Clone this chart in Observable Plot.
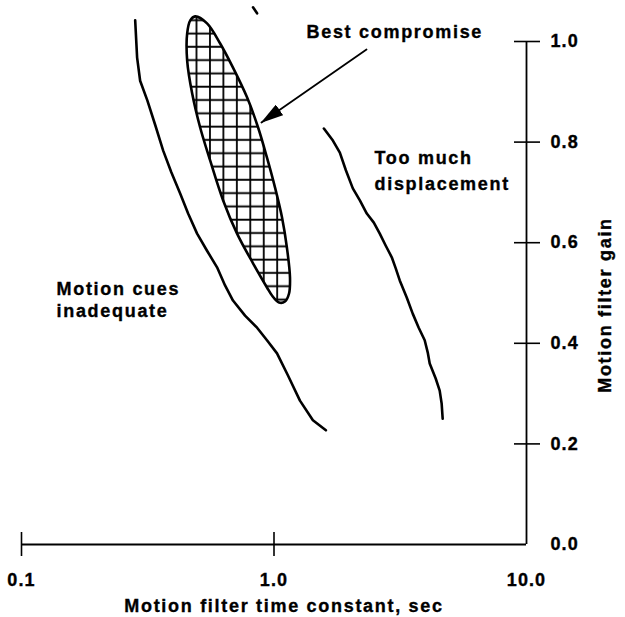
<!DOCTYPE html>
<html>
<head>
<meta charset="utf-8">
<script src="https://cdn.jsdelivr.net/npm/d3@7"></script>
<script src="https://cdn.jsdelivr.net/npm/@observablehq/plot@0.6"></script>
<style>
  html, body { margin: 0; padding: 0; background: #fff; }
  svg text { stroke: #000; stroke-width: 0.35px; }
  g[aria-label="x-axis tick label"] text, g[aria-label="y-axis tick label"] text { letter-spacing: 1.1px; }
</style>
</head>
<body>
<div id="chart"></div>
<script>
// Axis ticks and labels
const xTicks = [0.1, 1, 10];
const xTickLabels = ["0.1", "1.0", "10.0"];
const xTickMarks = [0.1, 1];
const yTicks = [0, 0.2, 0.4, 0.6, 0.8, 1.0];
const yTickLabels = ["0.0", "0.2", "0.4", "0.6", "0.8", "1.0"];
const yTickMarks = [0.2, 0.4, 0.6, 0.8, 1.0];
const xTitle = "Motion filter time constant, sec";
const yTitle = "Motion filter gain";

// Left boundary ("Motion cues inadequate")
const leftX = [0.282, 0.287, 0.295, 0.315, 0.339, 0.364, 0.392, 0.425, 0.457, 0.496, 0.543, 0.595, 0.640, 0.688, 0.768, 0.857, 0.938, 1.028, 1.136, 1.267, 1.426, 1.605];
const leftY = [1.042, 0.968, 0.922, 0.883, 0.833, 0.783, 0.740, 0.698, 0.658, 0.618, 0.584, 0.551, 0.515, 0.485, 0.455, 0.431, 0.406, 0.380, 0.336, 0.286, 0.247, 0.227];

// Right boundary ("Too much displacement")
const rightX = [1.576, 1.711, 1.823, 1.926, 2.052, 2.188, 2.331, 2.485, 2.624, 2.771, 2.927, 3.035, 3.148, 3.355, 3.543, 3.742, 3.952, 4.062, 4.137, 4.369, 4.531, 4.613, 4.656];
const rightY = [0.827, 0.803, 0.779, 0.744, 0.708, 0.684, 0.658, 0.640, 0.618, 0.594, 0.571, 0.549, 0.525, 0.491, 0.459, 0.431, 0.406, 0.382, 0.360, 0.330, 0.306, 0.280, 0.250];

// Short fragment at top
const topX = [0.826, 0.857];
const topY = [1.068, 1.056];

// Best-compromise region outline
const regionX = [0.487, 0.543, 0.612, 0.688, 0.782, 0.865, 0.938, 1.009, 1.076, 1.125, 1.157, 1.147, 1.105, 1.047, 0.982, 0.938, 0.826, 0.714, 0.629, 0.559, 0.510, 0.474, 0.453, 0.453, 0.466];
const regionY = [1.050, 1.036, 0.996, 0.948, 0.889, 0.829, 0.769, 0.710, 0.650, 0.590, 0.531, 0.499, 0.483, 0.481, 0.495, 0.511, 0.559, 0.618, 0.684, 0.763, 0.829, 0.897, 0.962, 1.016, 1.042];

// Arrow (tail -> tip)
const arrowX = [2.325, 0.892];
const arrowY = [0.984, 0.839];

// Annotations
const noteText = ["Best compromise", "Too much", "displacement", "Motion cues", "inadequate"];
const noteX = [1.345, 2.500, 2.500, 0.1376, 0.1376];
const noteY = [1.0185, 0.768, 0.716, 0.508, 0.463];

const zipXY = (xs, ys) => xs.map((x, i) => ({x, y: ys[i]}));
const left = zipXY(leftX, leftY);
const right = zipXY(rightX, rightY);
const topFrag = zipXY(topX, topY);
const region = zipXY(regionX, regionY);
const arrow = zipXY(arrowX, arrowY);
const notes = noteText.map((t, i) => ({t, x: noteX[i], y: noteY[i]}));

const font = "'Liberation Sans', Arial, Helvetica, sans-serif";

const svg = Plot.plot({
  width: 625,
  height: 617,
  marginLeft: 21,
  marginRight: 99,
  marginTop: 41,
  marginBottom: 73,
  style: {fontFamily: font, fontSize: "18px", fontWeight: "bold", color: "#000", background: "#fff", overflow: "visible"},
  x: {type: "log", domain: [0.1, 10]},
  y: {domain: [0, 1]},
  marks: [
    Plot.ruleY([0], {stroke: "#000", strokeWidth: 1.8}),
    Plot.ruleX([10], {stroke: "#000", strokeWidth: 1.8}),
    Plot.axisX(xTickMarks, {tickSize: 12, tickFormat: () => "", label: null, strokeWidth: 1.6}),
    Plot.axisX(xTickMarks, {tickSize: -12, tickFormat: () => "", label: null, strokeWidth: 1.6}),
    Plot.axisX(xTicks, {tickSize: 0, tickPadding: 29, label: null, fontSize: 18, fontWeight: "bold",
      tickFormat: d => xTickLabels[xTicks.indexOf(d)]}),
    Plot.axisY(yTickMarks, {anchor: "right", tickSize: 13, tickFormat: () => "", label: null, strokeWidth: 1.6}),
    Plot.axisY(yTickMarks, {anchor: "right", tickSize: -13, tickFormat: () => "", label: null, strokeWidth: 1.6}),
    Plot.axisY(yTicks, {anchor: "right", tickSize: 0, tickPadding: 24, label: null, fontSize: 18, fontWeight: "bold",
      tickFormat: d => yTickLabels[yTicks.indexOf(d)]}),
    Plot.text([xTitle], {text: d => d, frameAnchor: "bottom", textAnchor: "middle", dx: 10, dy: 62, lineAnchor: "middle",
      fontSize: 18, fontWeight: "bold", fill: "#000"}),
    Plot.text([yTitle], {text: d => d, frameAnchor: "right", textAnchor: "middle", rotate: -90, dx: 79, dy: 12, lineAnchor: "middle",
      fontSize: 18, fontWeight: "bold", fill: "#000"}),
    Plot.line(region, {x: "x", y: "y", curve: "catmull-rom-closed", fill: "url(#hatch)", stroke: "#000", strokeWidth: 2.6}),
    Plot.line(left, {x: "x", y: "y", stroke: "#000", strokeWidth: 2.6, strokeLinejoin: "round", strokeLinecap: "round"}),
    Plot.line(right, {x: "x", y: "y", stroke: "#000", strokeWidth: 2.6, strokeLinejoin: "round", strokeLinecap: "round"}),
    Plot.line(topFrag, {x: "x", y: "y", stroke: "#000", strokeWidth: 2.6, strokeLinecap: "round"}),
    Plot.line(arrow, {x: "x", y: "y", stroke: "#000", strokeWidth: 1.8, ariaDescription: "arrow"}),
    Plot.text(notes, {x: "x", y: "y", text: "t", textAnchor: "start", lineAnchor: "middle",
      fontSize: 18, fontWeight: "bold", fill: "#000"})
  ]
});

// Pattern and arrowhead definitions (styles)
const ns = "http://www.w3.org/2000/svg";
const defs = document.createElementNS(ns, "defs");
defs.innerHTML = '<pattern id="hatch" patternUnits="userSpaceOnUse" width="13.45" height="13.3">' +
  '<rect width="13.45" height="13.3" fill="#fff"/>' +
  '<path d="M7.7,0V13.3M0,6.4H13.45" stroke="#000" stroke-width="1.8"/></pattern>' +
  '<marker id="ah" markerUnits="userSpaceOnUse" viewBox="0 0 23 13" markerWidth="23" markerHeight="13" refX="22" refY="6.5" orient="auto">' +
  '<path d="M0,0L23,6.5L0,13z" fill="#000"/></marker>';
svg.insertBefore(defs, svg.firstChild);
const ap = svg.querySelector('g[aria-description="arrow"] path');
if (ap) ap.setAttribute("marker-end", "url(#ah)");
svg.querySelectorAll("text").forEach(t => {
  if (!t.closest('g[aria-label="x-axis tick label"]') && !t.closest('g[aria-label="y-axis tick label"]')) t.style.letterSpacing = "1.7px";
});
document.getElementById("chart").appendChild(svg);
</script>
</body>
</html>
